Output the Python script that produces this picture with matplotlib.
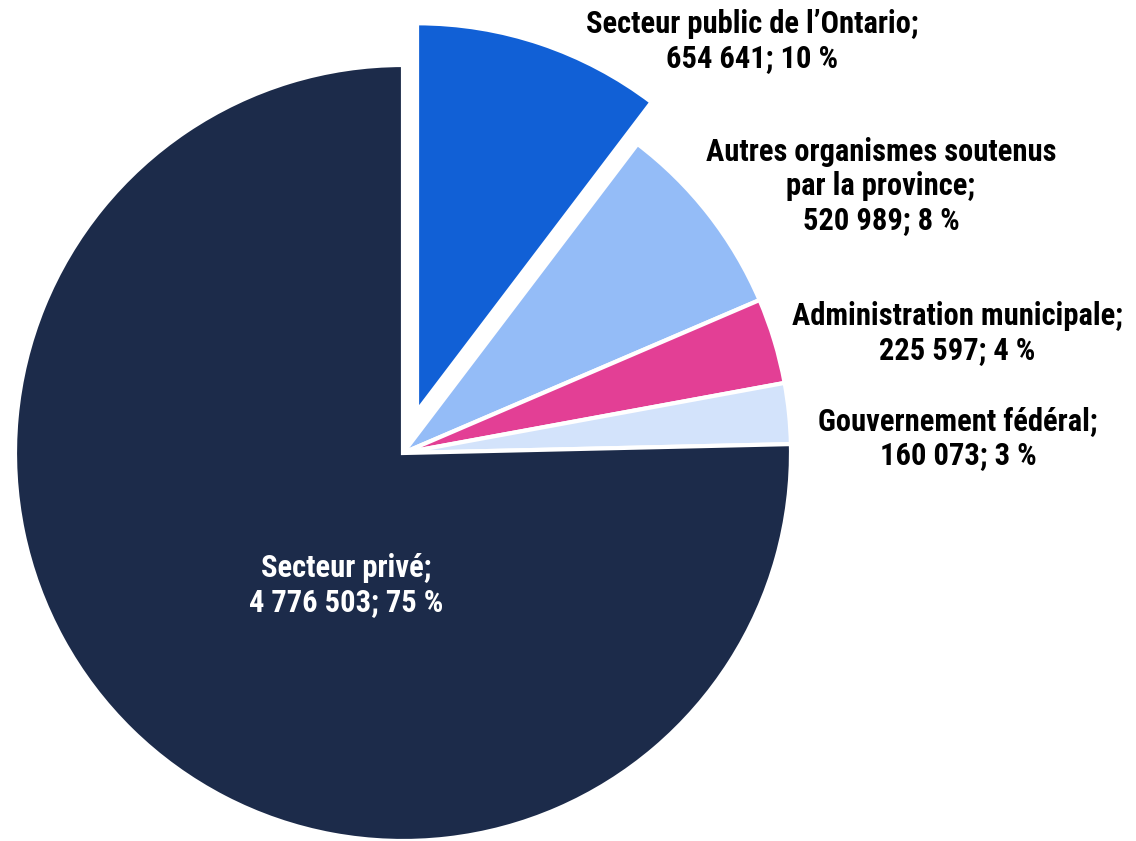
import matplotlib.pyplot as plt

# data
categories = ["Secteur public de l\u2019Ontario", "Autres organismes soutenus\npar la province",
              "Administration municipale", "Gouvernement f\u00e9d\u00e9ral", "Secteur priv\u00e9"]
values = [654641, 520989, 225597, 160073, 4776503]
percents = [10, 8, 4, 3, 75]
colors = ["#1160d6", "#94bcf7", "#e33f95", "#d3e3fb", "#1c2b4a"]


def fmt(v):
    return f"{v:,}".replace(",", "\u00a0")


labels = [f"{c};\n{fmt(v)}; {p} %" for c, v, p in zip(categories, values, percents)]

# label positions (pixel coords, centre of text block)
label_pos = [(752, 41), (881, 186), (957, 333), (958, 438), (346, 585)]
label_col = ["black", "black", "black", "black", "white"]

W, H = 1136, 841
fig = plt.figure(figsize=(W / 100, H / 100), dpi=100)
ax = fig.add_axes([0, 0, 1, 1])

ax.pie(values, colors=colors, startangle=90, counterclock=False,
       explode=[44, 0, 0, 0, 0], center=(403, H - 453), radius=388,
       wedgeprops=dict(edgecolor="white", linewidth=3), frame=True)
ax.set_xlim(0, W)
ax.set_ylim(0, H)
ax.set_aspect("equal")
ax.axis("off")

fam = ["Liberation Sans Narrow", "Roboto Condensed", "DejaVu Sans"]
for lab, (x, y), c in zip(labels, label_pos, label_col):
    ax.text(x, H - y, lab, ha="center", va="center", fontsize=22, fontweight="bold",
            color=c, family=fam, linespacing=1.15)

fig.savefig("out.png", dpi=100)
